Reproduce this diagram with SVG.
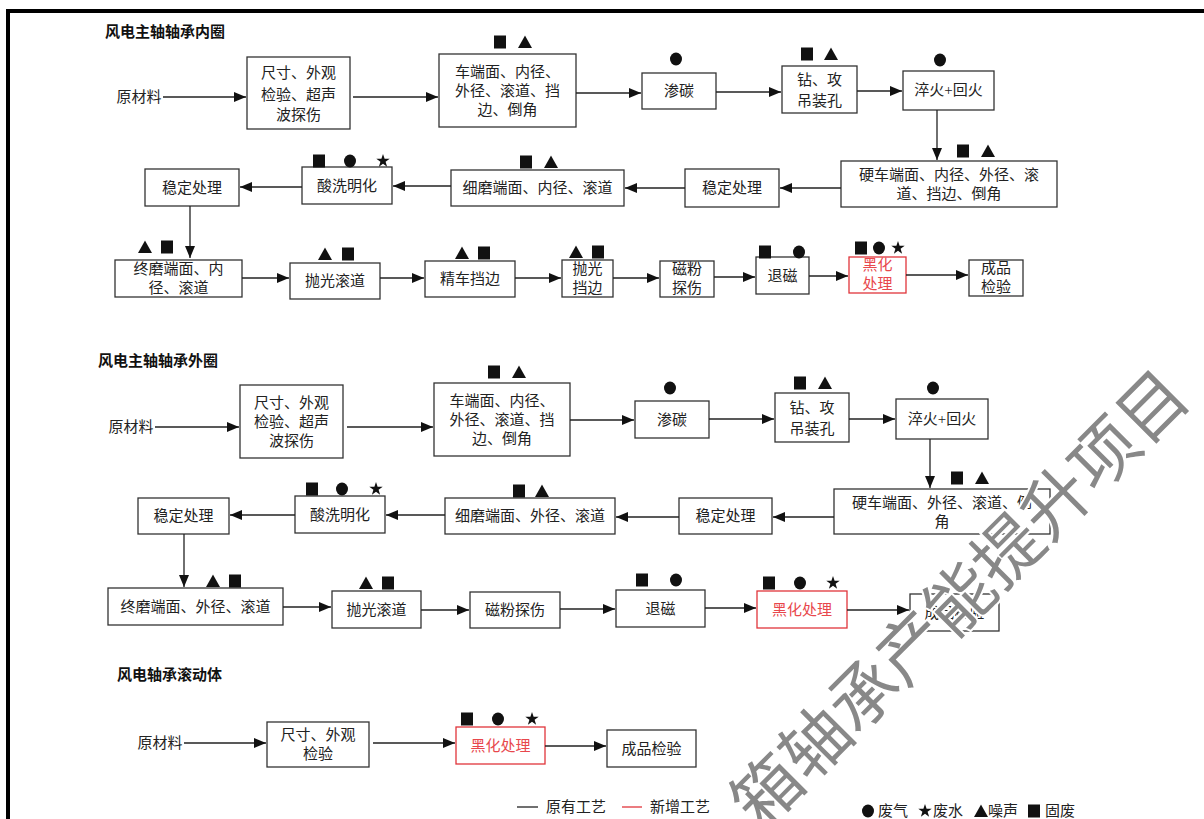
<svg xmlns="http://www.w3.org/2000/svg" xmlns:xlink="http://www.w3.org/1999/xlink" width="1204" height="819" viewBox="0 0 1204 819">
<style>
.t{font-family:"Liberation Serif","Noto Sans CJK SC",serif;font-size:15px;fill:#222;text-anchor:middle}
.tl{font-family:"Liberation Serif","Noto Sans CJK SC",serif;font-size:15px;fill:#222}
.h{font-family:"Liberation Serif","Noto Sans CJK SC",serif;font-size:15px;fill:#111;font-weight:bold}
.b{fill:#fff;stroke:#333;stroke-width:1.3}
.r{fill:#fff;stroke:#e0353b;stroke-width:1.3}
.rt{fill:#e8474c}
.c line{stroke:#222;stroke-width:1.3;marker-end:url(#ah)}
.wm{font-family:"Noto Sans CJK SC",sans-serif;font-size:68px;fill:#888;stroke:#fff;stroke-width:4;paint-order:stroke;text-anchor:middle}
</style>
<defs>
<marker id="ah" markerUnits="userSpaceOnUse" markerWidth="13" markerHeight="11" refX="12" refY="5" orient="auto"><path d="M0,0 L12,5 L0,10 z" fill="#111"/></marker>
<rect id="sq" x="-6" y="-6.5" width="12" height="13" fill="#111"/>
<ellipse id="ci" rx="6" ry="6.5" fill="#111"/>
<polygon id="tr" points="0,-6.5 7,6 -7,6" fill="#111"/>
<polygon id="st" points="0,-7 1.6,-2.2 6.7,-2.2 2.6,0.8 4.1,5.7 0,2.7 -4.1,5.7 -2.6,0.8 -6.7,-2.2 -1.6,-2.2" fill="#111"/>
</defs>
<rect x="8" y="11" width="1220" height="900" fill="none" stroke="#000" stroke-width="4"/>

<!-- Section 1 -->
<text class="h" x="105" y="37">风电主轴轴承内圈</text>
<g id="a0"><text class="t" x="139" y="102">原材料</text></g>
<g id="a1"><rect class="b" x="247" y="57" width="103" height="72"/><text class="t" x="298.5" y="78">尺寸、外观</text><text class="t" x="298.5" y="100">检验、超声</text><text class="t" x="298.5" y="120">波探伤</text></g>
<g id="a2"><rect class="b" x="439" y="54" width="137" height="73"/><text class="t" x="507.5" y="77">车端面、内径、</text><text class="t" x="507.5" y="96">外径、滚道、挡</text><text class="t" x="507.5" y="115">边、倒角</text><use href="#sq" x="500" y="42"/><use href="#tr" x="525" y="42"/></g>
<g id="a3"><rect class="b" x="642" y="73" width="74" height="36"/><text class="t" x="679" y="96">渗碳</text><use href="#ci" x="676" y="59"/></g>
<g id="a4"><rect class="b" x="782" y="66" width="75" height="47"/><text class="t" x="819.5" y="85">钻、攻</text><text class="t" x="819.5" y="106">吊装孔</text><use href="#sq" x="807" y="54"/><use href="#tr" x="831" y="54"/></g>
<g id="a5"><rect class="b" x="903" y="71" width="91" height="39"/><text class="t" x="948.5" y="95">淬火+回火</text><use href="#ci" x="940" y="60"/></g>
<g id="a6"><rect class="b" x="841" y="161" width="216" height="46"/><text class="t" x="949" y="180">硬车端面、内径、外径、滚</text><text class="t" x="949" y="199">道、挡边、倒角</text><use href="#sq" x="963" y="151"/><use href="#tr" x="988" y="151"/></g>
<g id="a7"><rect class="b" x="685" y="169" width="94" height="38"/><text class="t" x="732" y="193">稳定处理</text></g>
<g id="a8"><rect class="b" x="451" y="170" width="173" height="36"/><text class="t" x="537.5" y="193">细磨端面、内径、滚道</text><use href="#sq" x="526" y="162"/><use href="#tr" x="551" y="162"/></g>
<g id="a9"><rect class="b" x="302" y="167" width="90" height="37"/><text class="t" x="347" y="191">酸洗明化</text><use href="#sq" x="319" y="161"/><use href="#ci" x="350" y="161"/><use href="#st" x="383" y="161"/></g>
<g id="a10"><rect class="b" x="145" y="169" width="94" height="37"/><text class="t" x="192" y="193">稳定处理</text></g>
<g id="a11"><rect class="b" x="115" y="260" width="127" height="37"/><text class="t" x="178.5" y="274">终磨端面、内</text><text class="t" x="178.5" y="293">径、滚道</text><use href="#tr" x="145" y="247"/><use href="#sq" x="167" y="247"/></g>
<g id="a12"><rect class="b" x="290" y="263" width="90" height="36"/><text class="t" x="335" y="286">抛光滚道</text><use href="#tr" x="325" y="254"/><use href="#sq" x="348" y="254"/></g>
<g id="a13"><rect class="b" x="425" y="261" width="90" height="36"/><text class="t" x="470" y="284">精车挡边</text><use href="#tr" x="462" y="253"/><use href="#sq" x="484" y="253"/></g>
<g id="a14"><rect class="b" x="562" y="260" width="51" height="37"/><text class="t" x="587.5" y="274">抛光</text><text class="t" x="587.5" y="293">挡边</text><use href="#tr" x="576" y="252"/><use href="#sq" x="598" y="252"/></g>
<g id="a15"><rect class="b" x="660" y="261" width="54" height="36"/><text class="t" x="687" y="274">磁粉</text><text class="t" x="687" y="293">探伤</text></g>
<g id="a16"><rect class="b" x="756" y="257" width="53" height="37"/><text class="t" x="782.5" y="281">退磁</text><use href="#sq" x="765" y="252"/><use href="#ci" x="799" y="252"/></g>
<g id="a17"><rect class="r" x="849" y="257" width="57" height="36"/><text class="t rt" x="877.5" y="270">黑化</text><text class="t rt" x="877.5" y="289">处理</text><use href="#sq" x="861" y="248"/><use href="#ci" x="879" y="248"/><use href="#st" x="898" y="248"/></g>
<g id="a18"><rect class="b" x="969" y="260" width="54" height="36"/><text class="t" x="996" y="273">成品</text><text class="t" x="996" y="292">检验</text></g>

<!-- Section 2 -->
<text class="h" x="98" y="366">风电主轴轴承外圈</text>
<g id="b0"><text class="t" x="131" y="432">原材料</text></g>
<g id="b1"><rect class="b" x="240" y="385" width="103" height="73"/><text class="t" x="291.5" y="408">尺寸、外观</text><text class="t" x="291.5" y="427">检验、超声</text><text class="t" x="291.5" y="446">波探伤</text></g>
<g id="b2"><rect class="b" x="434" y="383" width="136" height="73"/><text class="t" x="502" y="406">车端面、内径、</text><text class="t" x="502" y="425">外径、滚道、挡</text><text class="t" x="502" y="444">边、倒角</text><use href="#sq" x="494" y="372"/><use href="#tr" x="519" y="372"/></g>
<g id="b3"><rect class="b" x="635" y="401" width="74" height="37"/><text class="t" x="672" y="425">渗碳</text><use href="#ci" x="670" y="388"/></g>
<g id="b4"><rect class="b" x="775" y="393" width="74" height="49"/><text class="t" x="812" y="413">钻、攻</text><text class="t" x="812" y="434">吊装孔</text><use href="#sq" x="800" y="383"/><use href="#tr" x="825" y="383"/></g>
<g id="b5"><rect class="b" x="896" y="399" width="92" height="40"/><text class="t" x="942" y="424">淬火+回火</text><use href="#ci" x="933" y="388"/></g>
<g id="b6"><rect class="b" x="834" y="489" width="216" height="45"/><text class="t" x="942" y="508">硬车端面、外径、滚道、倒</text><text class="t" x="942" y="527">角</text><use href="#sq" x="957" y="478"/><use href="#tr" x="982" y="478"/></g>
<g id="b7"><rect class="b" x="679" y="498" width="93" height="36"/><text class="t" x="725.5" y="521">稳定处理</text></g>
<g id="b8"><rect class="b" x="445" y="498" width="170" height="36"/><text class="t" x="530" y="521">细磨端面、外径、滚道</text><use href="#sq" x="519" y="491"/><use href="#tr" x="542" y="491"/></g>
<g id="b9"><rect class="b" x="295" y="496" width="90" height="37"/><text class="t" x="340" y="520">酸洗明化</text><use href="#sq" x="312" y="489"/><use href="#ci" x="342" y="489"/><use href="#st" x="376" y="489"/></g>
<g id="b10"><rect class="b" x="138" y="498" width="91" height="36"/><text class="t" x="183.5" y="521">稳定处理</text></g>
<g id="b11"><rect class="b" x="108" y="588" width="175" height="37"/><text class="t" x="195.5" y="612">终磨端面、外径、滚道</text><use href="#tr" x="213" y="581"/><use href="#sq" x="235" y="581"/></g>
<g id="b12"><rect class="b" x="332" y="591" width="89" height="37"/><text class="t" x="376.5" y="615">抛光滚道</text><use href="#tr" x="366" y="583"/><use href="#sq" x="388" y="583"/></g>
<g id="b13"><rect class="b" x="470" y="592" width="90" height="36"/><text class="t" x="515" y="615">磁粉探伤</text></g>
<g id="b14"><rect class="b" x="616" y="590" width="89" height="37"/><text class="t" x="660.5" y="614">退磁</text><use href="#sq" x="642" y="580"/><use href="#ci" x="676" y="580"/></g>
<g id="b15"><rect class="r" x="757" y="591" width="90" height="37"/><text class="t rt" x="802" y="615">黑化处理</text><use href="#sq" x="769" y="583"/><use href="#ci" x="800" y="583"/><use href="#st" x="833" y="583"/></g>
<g id="b16"><rect class="b" x="910" y="594" width="89" height="37"/><text class="t" x="954.5" y="618">成品检验</text></g>

<!-- Section 3 -->
<text class="h" x="117" y="680">风电轴承滚动体</text>
<g id="c0"><text class="t" x="160" y="748">原材料</text></g>
<g id="c1"><rect class="b" x="267" y="722" width="102" height="45"/><text class="t" x="318" y="740">尺寸、外观</text><text class="t" x="318" y="759">检验</text></g>
<g id="c2"><rect class="r" x="456" y="727" width="89" height="37"/><text class="t rt" x="500.5" y="751">黑化处理</text><use href="#sq" x="467" y="719"/><use href="#ci" x="498" y="719"/><use href="#st" x="532" y="719"/></g>
<g id="c3"><rect class="b" x="607" y="730" width="89" height="37"/><text class="t" x="651.5" y="754">成品检验</text></g>

<!-- Connectors -->
<g id="connectors" class="c">
<line x1="163" y1="97" x2="246" y2="97"/>
<line x1="353" y1="97" x2="438" y2="97"/>
<line x1="576" y1="93" x2="641" y2="93"/>
<line x1="716" y1="92" x2="781" y2="92"/>
<line x1="857" y1="91" x2="902" y2="91"/>
<line x1="937" y1="110" x2="937" y2="160"/>
<line x1="841" y1="188" x2="780" y2="188"/>
<line x1="685" y1="188" x2="625" y2="188"/>
<line x1="451" y1="186" x2="393" y2="186"/>
<line x1="302" y1="187" x2="240" y2="187"/>
<line x1="190" y1="206" x2="190" y2="258"/>
<line x1="242" y1="278" x2="289" y2="278"/>
<line x1="380" y1="278" x2="424" y2="278"/>
<line x1="515" y1="278" x2="561" y2="278"/>
<line x1="613" y1="278" x2="659" y2="278"/>
<line x1="714" y1="277" x2="755" y2="277"/>
<line x1="809" y1="276" x2="848" y2="276"/>
<line x1="906" y1="275" x2="968" y2="275"/>

<line x1="155" y1="427" x2="239" y2="427"/>
<line x1="347" y1="427" x2="433" y2="427"/>
<line x1="570" y1="420" x2="634" y2="420"/>
<line x1="709" y1="419" x2="774" y2="419"/>
<line x1="849" y1="419" x2="895" y2="419"/>
<line x1="930" y1="439" x2="930" y2="488"/>
<line x1="834" y1="517" x2="773" y2="517"/>
<line x1="679" y1="517" x2="616" y2="517"/>
<line x1="445" y1="515" x2="386" y2="515"/>
<line x1="295" y1="515" x2="230" y2="515"/>
<line x1="184" y1="534" x2="184" y2="587"/>
<line x1="283" y1="607" x2="331" y2="607"/>
<line x1="421" y1="610" x2="469" y2="610"/>
<line x1="560" y1="609" x2="615" y2="609"/>
<line x1="705" y1="608" x2="756" y2="608"/>
<line x1="847" y1="610" x2="909" y2="610"/>

<line x1="184" y1="743" x2="266" y2="743"/>
<line x1="373" y1="743" x2="455" y2="743"/>
<line x1="545" y1="746" x2="606" y2="746"/>
</g>

<!-- Legend -->
<g id="legend">
<line x1="517" y1="807" x2="538" y2="807" stroke="#222" stroke-width="1.3"/>
<text class="tl" x="546" y="812">原有工艺</text>
<line x1="622" y1="807" x2="642" y2="807" stroke="#e0353b" stroke-width="1.3"/>
<text class="tl" x="650" y="812">新增工艺</text>
<use href="#ci" x="868" y="811"/>
<text class="tl" x="878" y="816">废气</text>
<use href="#st" x="925" y="811"/>
<text class="tl" x="933" y="816">废水</text>
<use href="#tr" x="981" y="811"/>
<text class="tl" x="988" y="816">噪声</text>
<use href="#sq" x="1034" y="811"/>
<text class="tl" x="1045" y="816">固废</text>
</g>

<!-- Watermark -->
<text class="wm" transform="translate(960,599) rotate(-45)" x="0" y="24">箱轴承产能提升项目</text>
</svg>
